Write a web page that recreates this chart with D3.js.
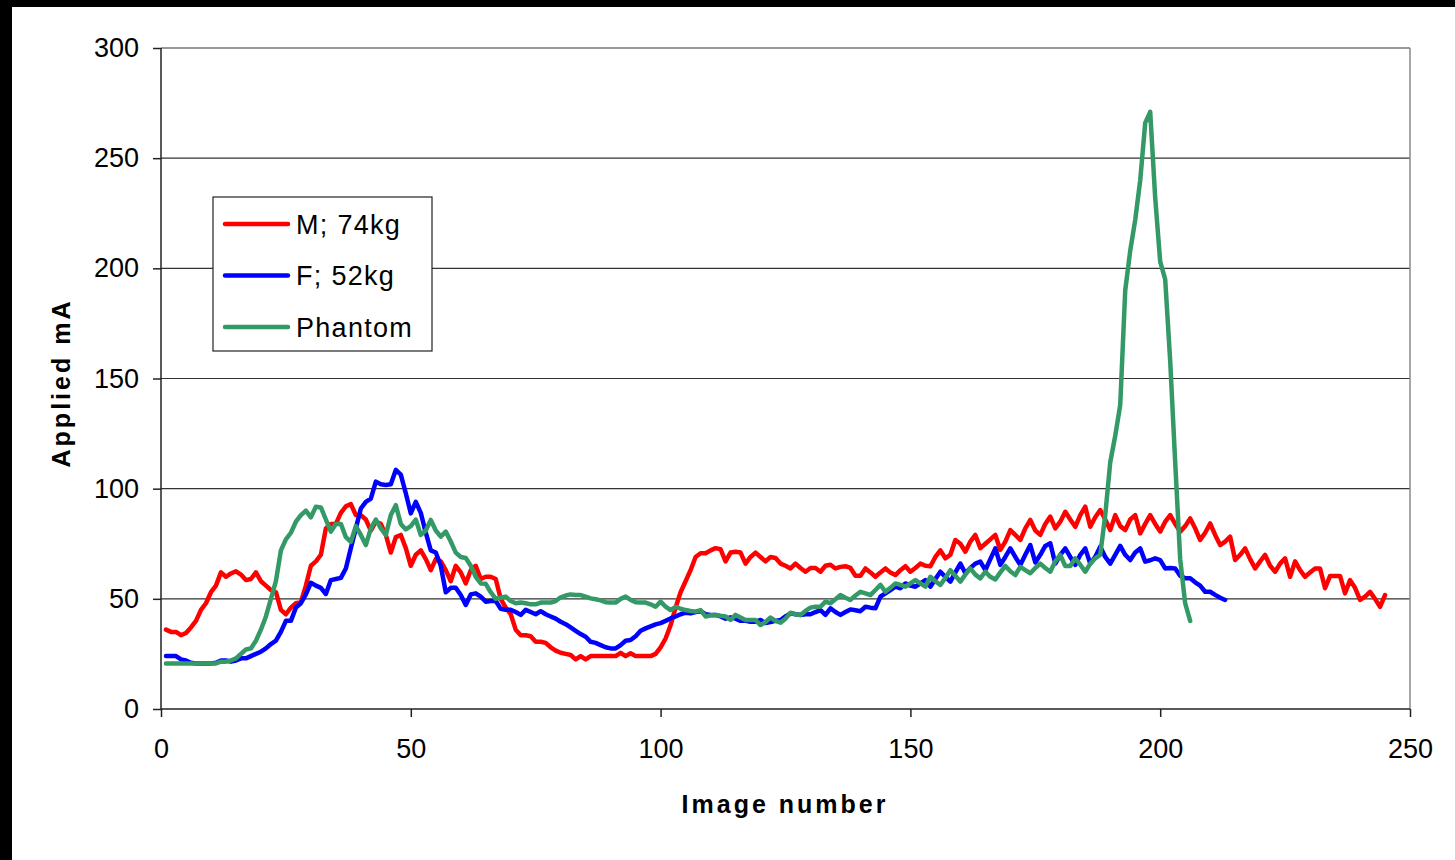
<!DOCTYPE html>
<html>
<head>
<meta charset="utf-8">
<script src="https://cdn.jsdelivr.net/npm/d3@7"></script>
<style>
  html, body { margin: 0; padding: 0; background: #000; }
  svg { display: block; }
</style>
</head>
<body>
<svg id="chart" width="1455" height="860"></svg>
<script>
// Applied tube current (mA) per image, three scans
const seriesNames = ["M; 74kg", "F; 52kg", "Phantom"];
const seriesColors = ["#ff0000", "#0000ff", "#339966"];

const maleMA = [
  36,35,35,33.5,34.5,37,40,45,48,53,
  56,62,60,61.5,62.5,61,58.5,59,62,58,
  56,54,53,45,43,46,48,48.5,56,65,
  67,70,82,84,84,89,92,93,88,88,
  86,81,85,84,79,71,78,79,73,65,
  70,72,68,63,68,67,63,58,65,62,
  57,63,65,59,60,60,59,50,46,43,
  36,33.5,33.5,33,30.5,30.5,30,28,26.5,25.5,
  25,24.5,22.5,24,22.5,24,24,24,24,24,
  24,25.5,24,25.3,24,24,24,24,25,28,
  32,38,46,53,58,63,69,70.7,70.7,72,
  73,72.5,67,71,71.4,71,66,69,71,69,
  67,69,68.5,66,65,63.8,66,64,62.3,64,
  64,62.3,65,65.5,63.8,64.5,64.8,64,60.5,60.5,
  63.8,62,60,62,63.8,62,60.8,63,64.8,62.3,
  64,66,65,64.8,69,72,68.4,70,76.7,75,
  71.4,76,79,73,75,77,79,72.2,76,81.2,
  79,76.7,82,85.8,81,79,84,87.3,82,85,
  89.5,86,82.7,88,91.8,82.7,87,90.3,86,81.2,
  88,83,81.2,86,88,79.7,84,88,84,80.5,
  85,88,84,80.5,83,86.5,82,76.7,80,84.2,
  79,74.4,76,78.2,67.6,70,72.9,68,63.8,67,
  69.9,65,62.3,66,68.4,60,67,63,60,62,
  63.8,63.8,54.8,60.4,60.4,60.4,52.5,58.5,55,49.5,
  51,53.2,50,46.4,51.7
];

const femaleMA = [
  24,24,24,22.5,22,21,20.7,20.7,20.7,20.7,
  21,22,22,21.5,22,23,23,24,25,26,
  27.5,29.5,31,35,40,40,46,48,52,57.3,
  56,55,52.2,58.5,59,59.5,63.8,73,82,91,
  94,95.5,103.2,102,101.7,102,108.5,106.4,97.9,88.8,
  94,89,80,72,71,65,53,55,55,51.7,
  47.2,52,52.5,51,48.7,49,49,45.5,45,45,
  44,42.7,45,44,43,44.4,43,42,41,39.6,
  38.5,37,35.5,34,32.8,30.5,30,29,28,27.5,
  27.5,29,31,31.3,33,35.5,36.6,37.5,38.4,39,
  40,41.1,42,43,43.7,43.4,44,44.4,43,42.7,
  42.7,42,41,41.6,41,40,40,39.6,39.6,40.4,
  39,39.5,40,40.4,42,43.4,43,42.7,43,43,
  44,44.9,42.7,45.7,44,42.7,44,45.2,44.8,44.4,
  46.4,46,45.7,51,52.5,54,55.5,54.8,57,56,
  55.5,57,58.5,55.5,59,62.3,60,57.8,62,66,
  61.6,64,66,66.9,63,68,72.9,65.4,69,72.9,
  69,65.4,70,74.4,66.5,70,74,75.2,66,70,
  72.9,69,65.4,70,72.9,66,69,73.7,69,66,
  70,74,70,67.6,71,72.9,66.9,67.5,68.4,67.6,
  63.8,64,63.8,60.5,59.3,59.3,57.5,56,53.2,53.2,
  51.8,50.5,49.5
];

const phantomMA = [
  20.7,20.7,20.7,20.7,20.7,20.7,20.7,20.7,20.7,20.7,
  20.7,21.5,21.5,22,23,25,27,27.5,31,36,
  42,50,58,72,77,80,85,88,90,87,
  91.8,91.5,86,80.5,84,84,78,75.9,83,79,
  74.4,82,86,82,79,88,92.5,84,81.5,83,
  86,79,81,85.8,81,78.2,80.5,76,71,69,
  68.5,65,60,57,56.8,53,50,50.5,51,49,
  48,48.3,48,47.5,47.5,48.3,48.3,48.3,49,50.7,
  51.5,52,51.7,51.7,51,50.2,49.8,49.3,48.5,48.3,
  48.3,50,51,49.5,48.5,48.3,48.3,47.5,46.4,48.7,
  46.5,44.9,46.4,45.5,44.9,44.5,44.2,44.9,42,42.5,
  42.7,42.3,42,40.4,42.7,41.5,40.4,40.4,40.4,38.1,
  39.5,41.5,40,39.2,41,43.7,43,42.7,44.5,46,
  46.4,46.4,48.7,48,49.8,51.7,50.5,49.5,51.5,53.2,
  52.5,51.7,54,56.3,53.2,55,57,56.3,55.5,57,
  58.5,57,55.5,60,58,56.3,59.5,63,60.5,57.8,
  61,63.8,61,59.3,62.3,60,58.8,62,64.9,62.5,
  60.8,64.5,63,61.6,64,66,64,62.3,67,69.9,
  64.9,64.9,68.4,65.5,62.3,66,68.4,70,88,112,
  124,138,190,208,222,240,266,271,232,203,
  195,158,112,68,48,40
];

const xTicks = [0, 50, 100, 150, 200, 250];
const yTicks = [0, 50, 100, 150, 200, 250, 300];
const xTitle = "Image number";
const yTitle = "Applied mA";

const series = [maleMA, femaleMA, phantomMA];

const W = 1455, H = 860;
const plot = { left: 161, right: 1410, top: 48, bottom: 709 };
const FONT = "'Liberation Sans', Arial, Helvetica, sans-serif";

const svg = d3.select("#chart");

// white page inside the dark frame
svg.append("rect").attr("x", 12).attr("y", 7).attr("width", W - 12).attr("height", H - 7).attr("fill", "#fff");

const x = d3.scaleLinear().domain([0, 250]).range([plot.left, plot.right]);
const y = d3.scaleLinear().domain([0, 300]).range([plot.bottom, plot.top]);

// horizontal gridlines
svg.append("g")
  .selectAll("line")
  .data(yTicks.filter(v => v > 0))
  .join("line")
  .attr("x1", plot.left).attr("x2", plot.right)
  .attr("y1", d => y(d)).attr("y2", d => y(d))
  .attr("stroke", "#333").attr("stroke-width", 1.2);

// right edge of plot area
svg.append("line")
  .attr("x1", plot.right).attr("x2", plot.right)
  .attr("y1", plot.top).attr("y2", plot.bottom)
  .attr("stroke", "#8a8a8a").attr("stroke-width", 1.5);

// axes
const yAxis = d3.axisLeft(y).tickValues(yTicks).tickSize(8).tickPadding(14).tickFormat(d3.format("d"));
const xAxis = d3.axisBottom(x).tickValues(xTicks).tickSize(8).tickPadding(22).tickFormat(d3.format("d"));

const gy = svg.append("g").attr("transform", `translate(${plot.left},0)`).call(yAxis);
const gx = svg.append("g").attr("transform", `translate(0,${plot.bottom})`).call(xAxis);

[gx, gy].forEach(g => {
  g.select(".domain").attr("stroke", "#222").attr("stroke-width", 1.5);
  g.selectAll(".tick line").attr("stroke", "#222").attr("stroke-width", 1.5);
  g.selectAll(".tick text")
    .attr("fill", "#000")
    .style("font-family", FONT)
    .style("font-size", "27px");
});
gy.select(".domain").attr("d", `M0,${plot.top}V${plot.bottom}`);
gx.select(".domain").attr("d", `M${plot.left},0H${plot.right}`);

// data lines
const line = d3.line()
  .x((d, i) => x(i + 1))
  .y(d => y(d));

svg.append("g")
  .selectAll("path")
  .data(series)
  .join("path")
  .attr("d", d => line(d))
  .attr("fill", "none")
  .attr("stroke", (d, i) => seriesColors[i])
  .attr("stroke-width", 4.5)
  .attr("stroke-linejoin", "round")
  .attr("stroke-linecap", "round");

// axis titles
svg.append("text")
  .attr("x", 785).attr("y", 813)
  .attr("text-anchor", "middle")
  .style("font-family", FONT).style("font-size", "25px").style("font-weight", "bold")
  .style("letter-spacing", "3px")
  .text(xTitle);

svg.append("text")
  .attr("transform", "translate(70,383) rotate(-90)")
  .attr("text-anchor", "middle")
  .style("font-family", FONT).style("font-size", "25px").style("font-weight", "bold")
  .style("letter-spacing", "3px")
  .text(yTitle);

// legend
const legend = svg.append("g");
legend.append("rect")
  .attr("x", 213).attr("y", 197).attr("width", 219).attr("height", 154)
  .attr("fill", "#fff").attr("stroke", "#222").attr("stroke-width", 1.2);

const legendRows = legend.selectAll("g.row")
  .data(seriesNames)
  .join("g")
  .attr("class", "row")
  .attr("transform", (d, i) => `translate(0,${224 + i * 51.5})`);

legendRows.append("line")
  .attr("x1", 225).attr("x2", 288).attr("y1", 0).attr("y2", 0)
  .attr("stroke", (d, i) => seriesColors[i])
  .attr("stroke-width", 4.5).attr("stroke-linecap", "round");

legendRows.append("text")
  .attr("x", 296).attr("y", 9.5)
  .style("font-family", FONT).style("font-size", "27px")
  .style("letter-spacing", "1.3px")
  .attr("fill", "#000")
  .text(d => d);
</script>
</body>
</html>
